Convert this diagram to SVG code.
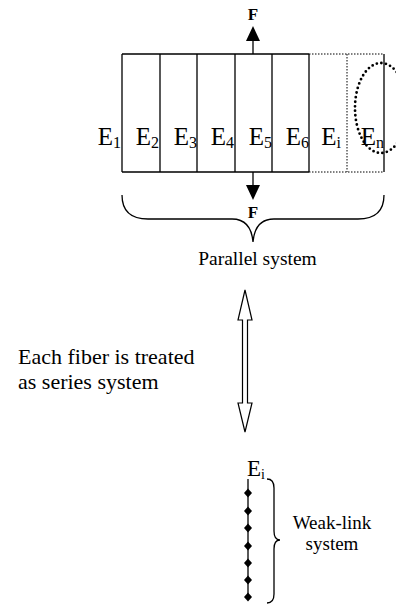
<svg xmlns="http://www.w3.org/2000/svg" width="396" height="606" viewBox="0 0 396 606">
<style>
.t{font-family:"Liberation Serif","Times New Roman",serif;fill:#000}
.e{font-size:25px}
.s{font-size:16px}
.f{font-size:17px;font-weight:bold}
.ln{stroke:#000;stroke-width:1.3;fill:none}
.dot{stroke:#000;stroke-width:1;stroke-dasharray:1.5 1.5;fill:none}
</style>
<rect width="396" height="606" fill="#fff"/>
<g id="parallel">
  <path class="ln" d="M122,54 H309 M122,172 H309 M122,54 V172 M160,54 V172 M197,54 V172 M235,54 V172 M272,54 V172 M309,54 V172 M384,54 V172"/>
  <path class="dot" d="M309,54 H384 M309,172 H384 M347,54 V172"/>
  <ellipse cx="381" cy="108" rx="26" ry="45" fill="none" stroke="#000" stroke-width="2.8" stroke-linecap="round" stroke-dasharray="0 4.6"/>
</g>
<g id="labels" class="t">
  <text class="e" x="121" y="145" text-anchor="end">E<tspan class="s" dy="3">1</tspan></text>
  <text class="e" x="159" y="145" text-anchor="end">E<tspan class="s" dy="3">2</tspan></text>
  <text class="e" x="197" y="145" text-anchor="end">E<tspan class="s" dy="3">3</tspan></text>
  <text class="e" x="234" y="145" text-anchor="end">E<tspan class="s" dy="3">4</tspan></text>
  <text class="e" x="272" y="145" text-anchor="end">E<tspan class="s" dy="3">5</tspan></text>
  <text class="e" x="309" y="145" text-anchor="end">E<tspan class="s" dy="3">6</tspan></text>
  <text class="e" x="341" y="145" text-anchor="end">E<tspan class="s" dy="3">i</tspan></text>
  <text class="e" x="384" y="145" text-anchor="end">E<tspan class="s" dy="3">n</tspan></text>
</g>
<g id="force-top">
  <text class="t f" x="253" y="20" text-anchor="middle">F</text>
</g>
<g id="force-bottom">
  <text class="t f" x="253" y="218" text-anchor="middle">F</text>
</g>
<g id="parallel-label">
  <text class="t" x="257.5" y="265" text-anchor="middle" font-size="19.5">Parallel system</text>
</g>
<g id="series-label" class="t" font-size="22">
  <text x="18" y="364">Each fiber is treated</text>
  <text x="18" y="389">as series system</text>
</g>
<g id="fiber">
  <text class="t" x="247" y="476" font-size="23">E<tspan font-size="14" dy="3">i</tspan></text>
  <line class="ln" x1="248" y1="479" x2="248" y2="597"/>
  <g fill="#000">
    <path d="M248,488.5 l4,4.5 l-4,4.5 l-4,-4.5 z"/>
    <path d="M248,506.5 l4,4.5 l-4,4.5 l-4,-4.5 z"/>
    <path d="M248,523.5 l4,4.5 l-4,4.5 l-4,-4.5 z"/>
    <path d="M248,541.5 l4,4.5 l-4,4.5 l-4,-4.5 z"/>
    <path d="M248,558.5 l4,4.5 l-4,4.5 l-4,-4.5 z"/>
    <path d="M248,575.5 l4,4.5 l-4,4.5 l-4,-4.5 z"/>
    <path d="M248,592.5 l4,4.5 l-4,4.5 l-4,-4.5 z"/>
  </g>
</g>
<g id="weak-link-label" class="t" font-size="19" text-anchor="middle">
  <text x="332" y="529">Weak-link</text>
  <text x="332" y="550">system</text>
</g>
<g id="connectors">
  <line class="ln" x1="253" y1="41" x2="253" y2="54"/>
  <polygon points="253,26 246,41 260,41" fill="#000"/>
  <line class="ln" x1="253" y1="172" x2="253" y2="185"/>
  <polygon points="246,185 260,185 253,200" fill="#000"/>
  <path class="ln" d="M122,195 Q122,219 148,219 L232,219 Q251,219 253,242 Q255,219 274,219 L358,219 Q384,219 384,195"/>
  <path d="M245,290 L252,320 L247.5,320 L247.5,403 L252,403 L245,432 L238,403 L242.5,403 L242.5,320 L238,320 Z" fill="#fff" stroke="#000" stroke-width="1.2" stroke-linejoin="miter"/>
  <path class="ln" d="M267,479 Q274,479 274,488 L274,531 Q274,540 280,540 Q274,540 274,549 L274,594 Q274,603 267,603"/>
</g>
</svg>
